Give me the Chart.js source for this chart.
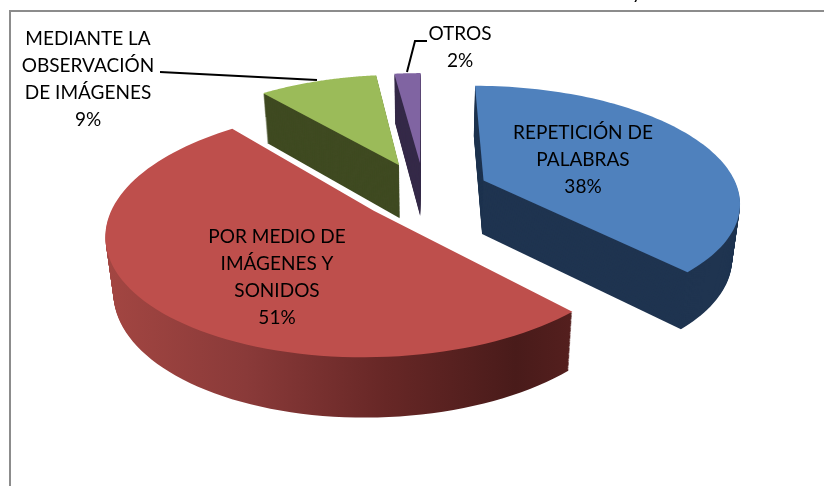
<!DOCTYPE html>
<html>
<head>
<meta charset="utf-8">
<script src="https://cdn.jsdelivr.net/npm/chart.js@4"></script>
<style>
    html, body { margin: 0; padding: 0; background: #fff; }
    canvas { display: block; filter: blur(0.35px); }
</style>
</head>
<body>
<canvas id="grafico" width="824" height="486"></canvas>
<script>
const categorias = ['REPETICIÓN DE PALABRAS', 'POR MEDIO DE IMÁGENES Y SONIDOS', 'MEDIANTE LA OBSERVACIÓN DE IMÁGENES', 'OTROS'];
const valores = [38, 51, 9, 2];
const colores = ['#4f81bd', '#be4f4c', '#9bbb59', '#8064a2'];
const coloresLado = ['#1f3450', null, '#3f4a21', '#352a48'];

// lineas de cada etiqueta y donde va
const lineasEtiqueta = [
    ['REPETICIÓN DE', 'PALABRAS'],
    ['POR MEDIO DE', 'IMÁGENES Y', 'SONIDOS'],
    ['MEDIANTE LA', 'OBSERVACIÓN', 'DE IMÁGENES'],
    ['OTROS']
];
const posEtiqueta = [[583, 133], [277, 237], [88, 39], [460, 34]];

// camara de la torta 3D
const vista = { cx: 424, cy: 191, a: 255, b: 114, p: 0.17, alto: 54 };

function proyectar(theta, rho, z, ex, ey) {
    const X = ex + rho * Math.sin(theta);
    const Y = ey - rho * Math.cos(theta);
    const w = 1 - vista.p * Y;
    return [
        vista.cx + vista.a * X / w * (1 - 0.025 * z),
        vista.cy + vista.b * Y / w + vista.alto * z / Math.sqrt(w)
    ];
}

function trazarPorcion(ctx, el, z) {
    const ini = el.startAngle + Math.PI / 2;
    const fin = el.endAngle + Math.PI / 2;
    const medio = (ini + fin) / 2;
    const e = el.options.offset / el.outerRadius;
    const ex = e * Math.sin(medio);
    const ey = -e * Math.cos(medio);
    ctx.beginPath();
    const c = proyectar(0, 0, z, ex, ey);
    ctx.moveTo(c[0], c[1]);
    const pasos = 90;
    for (let i = 0; i <= pasos; i++) {
        const p = proyectar(ini + (fin - ini) * i / pasos, 1, z, ex, ey);
        ctx.lineTo(p[0], p[1]);
    }
    ctx.closePath();
}

const torta3D = {
    id: 'torta3D',
    beforeDraw(chart) {
        const ctx = chart.ctx;
        ctx.save();
        ctx.strokeStyle = '#8c8c8c';
        ctx.lineWidth = 2;
        ctx.beginPath();
        ctx.moveTo(10, 486);
        ctx.lineTo(10, 11);
        ctx.lineTo(824, 11);
        ctx.stroke();
        ctx.restore();
    },
    beforeDatasetDraw(chart, args) {
        const ctx = chart.ctx;
        const arcos = args.meta.data;
        const ladoRojo = ctx.createLinearGradient(106, 0, 572, 0);
        ladoRojo.addColorStop(0, '#a34642');
        ladoRojo.addColorStop(0.3, '#8a3a39');
        ladoRojo.addColorStop(0.6, '#672726');
        ladoRojo.addColorStop(0.88, '#491b1a');
        ladoRojo.addColorStop(1, '#541f1e');
        ctx.save();
        // de atras hacia adelante
        [3, 2, 0, 1].forEach(i => {
            ctx.fillStyle = coloresLado[i] || ladoRojo;
            for (let k = 50; k > 0; k--) {
                trazarPorcion(ctx, arcos[i], k / 50);
                ctx.fill();
            }
            ctx.fillStyle = colores[i];
            trazarPorcion(ctx, arcos[i], 0);
            ctx.fill();
        });
        ctx.restore();
        return false;
    },
    afterDatasetsDraw(chart) {
        const ctx = chart.ctx;
        ctx.save();
        ctx.strokeStyle = '#000';
        ctx.lineWidth = 2;
        ctx.beginPath();
        ctx.moveTo(160, 72);
        ctx.lineTo(317, 80);
        ctx.moveTo(407, 72);
        ctx.lineTo(415, 41);
        ctx.lineTo(427, 41);
        ctx.stroke();

        ctx.fillStyle = '#000';
        ctx.font = '19px Lato';
        ctx.textAlign = 'center';
        ctx.textBaseline = 'middle';
        lineasEtiqueta.forEach((lineas, i) => {
            const filas = lineas.concat(valores[i] + '%');
            filas.forEach((txt, j) => {
                ctx.fillText(txt, posEtiqueta[i][0], posEtiqueta[i][1] + j * 27);
            });
        });
        // resto del titulo que queda cortado arriba
        ctx.textBaseline = 'alphabetic';
        ctx.fillText('y', 637, -1);
        ctx.restore();
    }
};

new Chart(document.getElementById('grafico'), {
    type: 'pie',
    data: {
        labels: categorias,
        datasets: [{
            data: valores,
            backgroundColor: colores,
            borderWidth: 0,
            offset: 55
        }]
    },
    options: {
        responsive: false,
        animation: false,
        plugins: { legend: { display: false }, tooltip: { enabled: false } }
    },
    plugins: [torta3D]
});
</script>
</body>
</html>
